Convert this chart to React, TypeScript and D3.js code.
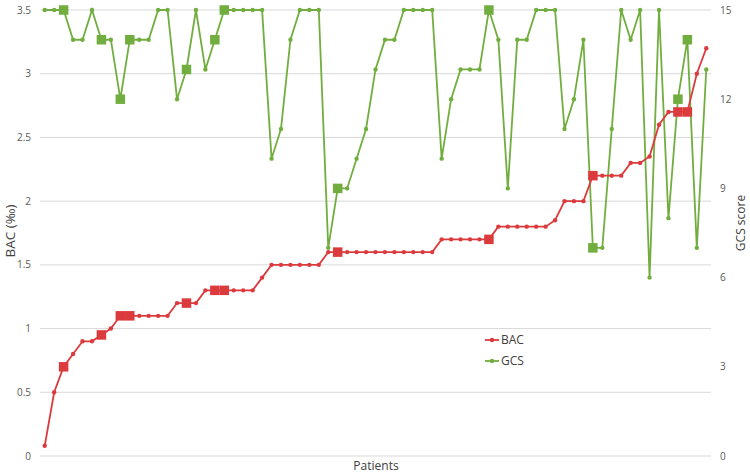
import React from "react";
import * as d3 from "d3";

const bac: number[] = [
  0.08, 0.5, 0.7, 0.8, 0.9, 0.9, 0.95, 1.0, 1.1, 1.1, 1.1, 1.1, 1.1, 1.1, 1.2, 1.2, 1.2, 1.3, 1.3, 1.3,
  1.3, 1.3, 1.3, 1.4, 1.5, 1.5, 1.5, 1.5, 1.5, 1.5, 1.6, 1.6, 1.6, 1.6, 1.6, 1.6, 1.6, 1.6, 1.6, 1.6,
  1.6, 1.6, 1.7, 1.7, 1.7, 1.7, 1.7, 1.7, 1.8, 1.8, 1.8, 1.8, 1.8, 1.8, 1.85, 2.0, 2.0, 2.0, 2.2, 2.2,
  2.2, 2.2, 2.3, 2.3, 2.35, 2.6, 2.7, 2.7, 2.7, 3.0, 3.2,
];
const gcs: number[] = [
  15, 15, 15, 14, 14, 15, 14, 14, 12, 14, 14, 14, 15, 15, 12, 13, 15, 13, 14, 15,
  15, 15, 15, 15, 10, 11, 14, 15, 15, 15, 7, 9, 9, 10, 11, 13, 14, 14, 15, 15,
  15, 15, 10, 12, 13, 13, 13, 15, 14, 9, 14, 14, 15, 15, 15, 11, 12, 14, 7, 7,
  11, 15, 14, 15, 6, 15, 8, 12, 14, 7, 13,
];
// 1-based patient indices highlighted with square markers
const highlighted: number[] = [3, 7, 9, 10, 16, 19, 20, 32, 48, 59, 68, 69];
const bacTicks: number[] = [0, 0.5, 1, 1.5, 2, 2.5, 3, 3.5];
const gcsTicks: number[] = [0, 3, 6, 9, 12, 15];
const seriesNames: string[] = ["BAC", "GCS"];

const RED = "#dc3b3d";
const GREEN = "#72ae3f";
const FONT = "Open Sans, Noto Sans, sans-serif";

export default function App() {
  const W = 750;
  const H = 476;
  const left = 40;
  const right = 711;
  const top = 10;
  const bottom = 456;

  const patients = bac.map((_, i) => i + 1);
  const x = d3.scalePoint<number>().domain(patients).range([left, right]).padding(0.5);
  const yL = d3.scaleLinear().domain([0, 3.5]).range([bottom, top]);
  const yR = d3.scaleLinear().domain([0, 15]).range([bottom, top]);

  const bacLine = d3
    .line<number>()
    .x((_, i) => x(i + 1) as number)
    .y((d) => yL(d));
  const gcsLine = d3
    .line<number>()
    .x((_, i) => x(i + 1) as number)
    .y((d) => yR(d));

  const hl = new Set(highlighted);
  const sq = 9.5;

  const renderMarkers = (vals: number[], y: (v: number) => number, color: string) =>
    vals.map((v, i) => {
      const cx = x(i + 1) as number;
      const cy = y(v);
      if (hl.has(i + 1)) {
        return (
          <rect key={i} x={cx - sq / 2} y={cy - sq / 2} width={sq} height={sq} fill={color} />
        );
      }
      return <circle key={i} cx={cx} cy={cy} r={2.2} fill={color} />;
    });

  return (
    <svg width={W} height={H} style={{ position: "absolute", left: 0, top: 0, background: "#fff" }}>
      {bacTicks.map((t) => (
        <g key={t}>
          <line x1={left} x2={right} y1={yL(t)} y2={yL(t)} stroke="#d9d9d9" strokeWidth={1} />
          <text
            x={31}
            y={yL(t)}
            dy="0.35em"
            textAnchor="end"
            fontSize={10}
            fill="#595959"
            fontFamily={FONT}
          >
            {t}
          </text>
        </g>
      ))}
      {gcsTicks.map((t) => (
        <text
          key={t}
          x={720}
          y={yR(t)}
          dy="0.35em"
          textAnchor="start"
          fontSize={10}
          fill="#595959"
          fontFamily={FONT}
        >
          {t}
        </text>
      ))}
      <text
        transform={`translate(15,231) rotate(-90)`}
        textAnchor="middle"
        fontSize={13.5}
        fill="#404040"
        fontFamily={FONT}
      >
        BAC (‰)
      </text>
      <text
        transform={`translate(745,223) rotate(-90)`}
        textAnchor="middle"
        fontSize={12}
        fill="#404040"
        fontFamily={FONT}
      >
        GCS score
      </text>
      <text x={376} y={470} textAnchor="middle" fontSize={12} fill="#404040" fontFamily={FONT}>
        Patients
      </text>

      <path d={gcsLine(gcs) || ""} fill="none" stroke={GREEN} strokeWidth={1.8} />
      {renderMarkers(gcs, yR, GREEN)}
      <path d={bacLine(bac) || ""} fill="none" stroke={RED} strokeWidth={1.8} />
      {renderMarkers(bac, yL, RED)}

      {seriesNames.map((name, i) => {
        const ly = 340 + i * 21;
        const color = i === 0 ? RED : GREEN;
        return (
          <g key={name}>
            <line x1={485} x2={499} y1={ly} y2={ly} stroke={color} strokeWidth={1.8} />
            <circle cx={492} cy={ly} r={2.2} fill={color} />
            <text x={501} y={ly} dy="0.35em" fontSize={12} fill="#404040" fontFamily={FONT}>
              {name}
            </text>
          </g>
        );
      })}
    </svg>
  );
}
